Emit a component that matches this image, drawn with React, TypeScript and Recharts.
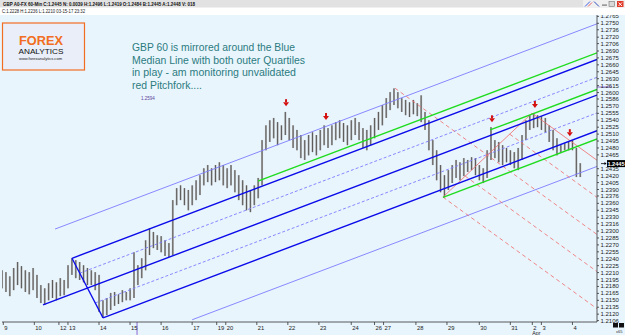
import React from "react";
import { ComposedChart, Bar, XAxis, YAxis, ReferenceLine, ReferenceDot } from "recharts";

if (typeof document !== "undefined") document.body.style.margin = "0";

// GBPUSD 60-min, aggregated to 3-hour bars; time = trading-hour index (weekends removed)
const barStep = 3;
const barHigh = [
  1.2215, 1.2211, 1.2202, 1.222, 1.2233, 1.2224, 1.2215, 1.2211, 1.222, 1.2205,
  1.2183, 1.2176, 1.2187, 1.2194, 1.2189, 1.2198, 1.2194, 1.2226, 1.2241, 1.2237,
  1.2233, 1.2226, 1.222, 1.2215, 1.2211, 1.2205, 1.215, 1.2155, 1.2166, 1.2168,
  1.2163, 1.2172, 1.2168, 1.2176, 1.2254, 1.2226, 1.2241, 1.228, 1.2306, 1.2298,
  1.2291, 1.2289, 1.228, 1.2274, 1.2367, 1.2393, 1.2399, 1.2393, 1.2389, 1.2399,
  1.241, 1.2421, 1.2436, 1.2443, 1.2436, 1.2443, 1.2449, 1.2443, 1.2436, 1.2443,
  1.2432, 1.2421, 1.241, 1.2399, 1.2389, 1.2399, 1.2415, 1.2497, 1.2529, 1.254,
  1.2545, 1.2536, 1.2529, 1.2558, 1.2545, 1.2529, 1.2519, 1.2508, 1.2497, 1.2508,
  1.2514, 1.2508, 1.2519, 1.2529, 1.2523, 1.2529, 1.2536, 1.254, 1.2534, 1.2529,
  1.254, 1.2545, 1.2536, 1.2523, 1.2519, 1.2529, 1.2545, 1.2558, 1.2573, 1.2588,
  1.2601, 1.2609, 1.2601, 1.2588, 1.2584, 1.2579, 1.2584, 1.2577, 1.2594, 1.2558,
  1.254, 1.2497, 1.2475, 1.2443, 1.2421, 1.2432, 1.2443, 1.2454, 1.2449, 1.2458,
  1.2454, 1.246, 1.2458, 1.2443, 1.2436, 1.2475, 1.2525, 1.2497, 1.2493, 1.2486,
  1.248, 1.2475, 1.2471, 1.248, 1.2508, 1.254, 1.2551, 1.2555, 1.2551, 1.2549,
  1.2545, 1.2529, 1.2519, 1.2501, 1.2486, 1.249, 1.2493, 1.2497, 1.248, 1.2447,
];
const barLow = [
  1.2176, 1.2168, 1.2159, 1.2172, 1.2183, 1.2176, 1.2168, 1.2163, 1.2172, 1.2155,
  1.2144, 1.214, 1.215, 1.2155, 1.215, 1.2159, 1.2161, 1.2176, 1.2205, 1.2198,
  1.2194, 1.2189, 1.2183, 1.2183, 1.2172, 1.2125, 1.2112, 1.2118, 1.2129, 1.2138,
  1.2142, 1.2146, 1.215, 1.215, 1.2155, 1.2183, 1.2198, 1.2215, 1.2248, 1.2263,
  1.2259, 1.2254, 1.2246, 1.2244, 1.2248, 1.2356, 1.2367, 1.2356, 1.2345, 1.2356,
  1.2367, 1.2378, 1.2399, 1.2406, 1.2399, 1.2406, 1.241, 1.2399, 1.2393, 1.2399,
  1.2384, 1.2367, 1.2356, 1.2345, 1.2341, 1.2356, 1.2371, 1.2399, 1.2475, 1.2493,
  1.2501, 1.2486, 1.2497, 1.2508, 1.2497, 1.248, 1.2475, 1.2458, 1.2454, 1.2464,
  1.2471, 1.2464, 1.2475, 1.2486, 1.248, 1.2486, 1.2497, 1.2501, 1.2493, 1.2486,
  1.2497, 1.2508, 1.2497, 1.248, 1.2475, 1.2486, 1.2501, 1.2519, 1.2529, 1.2545,
  1.2562, 1.2573, 1.2566, 1.2558, 1.2551, 1.2547, 1.2553, 1.2549, 1.2536, 1.2519,
  1.2475, 1.2443, 1.241, 1.2384, 1.2373, 1.2389, 1.2404, 1.2415, 1.241, 1.2419,
  1.2428, 1.2432, 1.2421, 1.241, 1.2404, 1.2415, 1.2454, 1.2458, 1.2449, 1.2443,
  1.2449, 1.2443, 1.2436, 1.2432, 1.2454, 1.2497, 1.2519, 1.2523, 1.2525, 1.2519,
  1.2514, 1.2493, 1.2475, 1.2464, 1.2469, 1.2475, 1.2475, 1.2475, 1.2417, 1.2417,
];
const lastPrice = 1.2445;

const dayTickHours = [1, 25, 44, 51, 75, 99, 123, 147, 166, 173, 197, 221, 245, 270, 288, 295, 320, 344, 369, 393, 410, 417, 441];
const dayTickLabels = ["9", "10", "12", "13", "14", "15", "16", "17", "19", "20", "21", "22", "23", "24", "26", "27", "28", "29", "30", "31", "2", "3", "4"];
const monthUnder: Record<string, string> = { "2": "Apr" };

// 1.2450 sits under the last-price box, so it is not listed
const priceTicks = [
  1.2765, 1.275, 1.2736, 1.272, 1.2706, 1.269, 1.2675, 1.266, 1.2645, 1.263, 1.2615, 1.26, 1.2586, 1.257, 1.2555,
  1.254, 1.2525, 1.251, 1.2495, 1.248, 1.2465, 1.2435, 1.242, 1.2405, 1.239, 1.2376, 1.236, 1.2345, 1.233,
  1.2316, 1.23, 1.2285, 1.227, 1.2255, 1.224, 1.2225, 1.221, 1.2195, 1.218, 1.2165, 1.215, 1.2135, 1.212, 1.2106,
];

// blue pitchfork pivots (A, B, C)
const blueHours = [31.7, 54.1, 78.1];
const bluePrices = [1.214, 1.2241, 1.2112];
const blueWarnStartHours = [41, 147];
// red (unvalidated) pitchfork pivots
const redHours = [303.8, 340.9, 409.7];
const redPrices = [1.26095, 1.23735, 1.25554];
// green parallels, start points
const greenHours = [197.9, 377.3, 340.9];
const greenPrices = [1.2408, 1.2519, 1.2373];

const arrowHours = [219.6, 250.5, 378.8, 412, 439];
const arrowPrices = [1.2577, 1.2547, 1.2542, 1.2573, 1.2512];

const endHour = 460;

type Pt = { x: number; y: number };
const lerp = (a: Pt, b: Pt, f: number): Pt => ({ x: a.x + (b.x - a.x) * f, y: a.y + (b.y - a.y) * f });

function fork(times: number[], prices: number[]) {
  const [a, b, c] = times.map((t, i) => ({ x: t, y: prices[i] }));
  const mid = lerp(b, c, 0.5);
  const slope = (mid.y - a.y) / (mid.x - a.x);
  const at = (t: number) => a.y + slope * (t - a.x);
  const ray = (p: Pt): [Pt, Pt] => [p, { x: endHour, y: p.y + slope * (endHour - p.x) }];
  return { a, b, c, slope, at, ray };
}

const blue = fork(blueHours, bluePrices);
const red = fork(redHours, redPrices);

const candles = barHigh.map((h, i) => ({ t: i * barStep, range: [barLow[i], h] }));

const CandleShape = (props: any) => {
  const { x, y, width, height } = props;
  const cx = x + width / 2;
  const top = Math.min(y, y + height);
  const h = Math.abs(height);
  return (
    <g>
      <rect x={cx - 1} y={top} width={2} height={Math.max(h, 1)} fill="#b4b4b4" />
      <line x1={cx} x2={cx} y1={top} y2={top + h} stroke="#505050" strokeWidth={0.9} />
    </g>
  );
};

const DayTick = (props: any) => {
  const { x, y, payload, index } = props;
  const label = dayTickLabels[index] ?? String(payload.value);
  return (
    <g>
      <line x1={x} x2={x} y1={y} y2={y + 3} stroke="#333" strokeWidth={0.8} />
      <text x={x + 1} y={y + 8} fontSize={5.8} fill="#222" fontFamily="Liberation Sans">{label}</text>
      {monthUnder[label] && (
        <text x={x} y={y + 13} fontSize={5.3} fill="#222" fontFamily="Liberation Sans">{monthUnder[label]}</text>
      )}
    </g>
  );
};

const PriceTick = (props: any) => {
  const { x, y, payload } = props;
  return (
    <g>
      <line x1={x} x2={x + 2} y1={y} y2={y} stroke="#333" strokeWidth={0.8} />
      <text x={x + 3.5} y={y + 2} fontSize={6} fill="#222" fontFamily="Liberation Sans">
        {payload.value.toFixed(4)}
      </text>
    </g>
  );
};

const ArrowShape = (props: any) => {
  const { cx, cy } = props;
  return (
    <g>
      <rect x={cx - 1} y={cy - 4} width={2} height={3} fill="#d41111" />
      <path d={`M${cx - 3},${cy - 1} L${cx + 3},${cy - 1} L${cx},${cy + 3} Z`} fill="#d41111" />
    </g>
  );
};

const PriceBox = (props: any) => {
  const { cx, cy } = props;
  return (
    <g>
      <line x1={cx + 4} x2={cx + 9} y1={cy - 0.5} y2={cy - 0.5} stroke="#000" strokeWidth={0.8} />
      <path d={`M${cx + 9.5},${cy - 0.5} L${cx + 7.5},${cy - 2} L${cx + 7.5},${cy + 1} Z`} fill="#000" />
      <rect x={cx + 10} y={cy - 4} width={18} height={7} fill="#000" />
      <text x={cx + 19} y={cy + 1.6} fontSize={5.6} fontWeight="bold" fill="#fff" textAnchor="middle" fontFamily="Liberation Sans">
        {lastPrice.toFixed(4)}
      </text>
    </g>
  );
};

const NoteShape = (props: any) => (
  <text x={props.cx} y={props.cy + 1.5} fontSize={4.5} fill="#5a3d99" fontFamily="Liberation Sans">1.2594</text>
);

const DARK_BLUE = "#0b0bea";
const LIGHT_BLUE = "#7c7cff";
const GREEN = "#1fdc1f";
const RED = "#ef6a6a";

export default function App() {
  const lines: { seg: [Pt, Pt]; stroke: string; w: number; dash?: string }[] = [];

  // blue fork: quartiles and warning lines first, dark tines on top
  const bOff = blue.b.y - blue.at(blue.b.x);
  const cOff = blue.c.y - blue.at(blue.c.x);
  lines.push({ seg: blue.ray(lerp(blue.b, blue.c, 0.25)), stroke: LIGHT_BLUE, w: 0.9, dash: "3 2" });
  lines.push({ seg: blue.ray(lerp(blue.b, blue.c, 0.75)), stroke: LIGHT_BLUE, w: 0.9, dash: "3 2" });
  lines.push({ seg: blue.ray({ x: blueWarnStartHours[0], y: blue.at(blueWarnStartHours[0]) + 2 * bOff }), stroke: LIGHT_BLUE, w: 0.9 });
  lines.push({ seg: blue.ray({ x: blueWarnStartHours[1], y: blue.at(blueWarnStartHours[1]) + 2 * cOff }), stroke: LIGHT_BLUE, w: 0.9 });

  // red fork
  lines.push({ seg: [red.b, red.c], stroke: RED, w: 0.8 });
  lines.push({ seg: red.ray(red.a), stroke: RED, w: 0.8, dash: "4 3" });
  lines.push({ seg: red.ray(red.b), stroke: RED, w: 0.8, dash: "4 3" });
  lines.push({ seg: red.ray(red.c), stroke: RED, w: 0.8 });
  lines.push({ seg: red.ray(lerp(red.b, red.c, 0.25)), stroke: RED, w: 0.8, dash: "4 3" });
  lines.push({ seg: red.ray(lerp(red.b, red.c, 0.75)), stroke: RED, w: 0.8, dash: "4 3" });

  // green parallels
  greenHours.forEach((t, i) => lines.push({ seg: blue.ray({ x: t, y: greenPrices[i] }), stroke: GREEN, w: 1.4 }));

  lines.push({ seg: [blue.b, blue.c], stroke: DARK_BLUE, w: 1.3 });
  lines.push({ seg: blue.ray(blue.a), stroke: DARK_BLUE, w: 1.4 });
  lines.push({ seg: blue.ray(blue.b), stroke: DARK_BLUE, w: 1.4 });
  lines.push({ seg: blue.ray(blue.c), stroke: DARK_BLUE, w: 1.4 });

  return (
    <div style={{ position: "relative", width: 625, height: 335, background: "#e9f5fd", overflow: "hidden" }}>
      <ComposedChart width={625} height={335} data={candles} margin={{ top: 15, right: 0, bottom: 0, left: 2 }}>
        <XAxis
          dataKey="t"
          type="number"
          domain={[0, endHour]}
          ticks={dayTickHours}
          interval={0}
          tick={<DayTick />}
          tickLine={false}
          tickSize={0}
          tickMargin={0}
          axisLine={{ stroke: "#333", strokeWidth: 0.8 }}
          height={13}
          allowDataOverflow
        />
        <YAxis
          orientation="right"
          type="number"
          domain={[1.2103, 1.2768]}
          ticks={priceTicks}
          interval={0}
          tick={<PriceTick />}
          tickLine={false}
          tickSize={0}
          tickMargin={0}
          axisLine={{ stroke: "#333", strokeWidth: 0.8 }}
          width={28}
          allowDataOverflow
        />
        {lines.map((l, i) => (
          <ReferenceLine
            key={`l${i}`}
            segment={l.seg}
            stroke={l.stroke}
            strokeWidth={l.w}
            strokeDasharray={l.dash}
            ifOverflow="hidden"
          />
        ))}
        <Bar dataKey="range" barSize={2} shape={<CandleShape />} isAnimationActive={false} />
        {arrowHours.map((t, i) => (
          <ReferenceDot key={`a${i}`} x={t} y={arrowPrices[i]} r={0} shape={<ArrowShape />} ifOverflow="visible" />
        ))}
        <ReferenceDot x={107.5} y={1.2588} r={0} shape={<NoteShape />} ifOverflow="visible" />
        <ReferenceLine segment={[{ x: 104.4, y: 1.2103 }, { x: 104.4, y: 1.2075 }]} stroke="#8a6ad0" strokeWidth={1} ifOverflow="visible" />
        <ReferenceLine segment={[{ x: endHour, y: 1.2612 }, { x: 471.6, y: 1.2612 }]} stroke="#8a6ad0" strokeWidth={1} ifOverflow="visible" />
        <ReferenceDot x={endHour} y={lastPrice} r={0} shape={<PriceBox />} ifOverflow="visible" />
      </ComposedChart>

      <svg width={625} height={335} style={{ position: "absolute", left: 0, top: 0, pointerEvents: "none" }}>
        {/* header */}
        <rect x={0} y={0} width={625} height={15} fill="#ffffff" />
        <rect x={0} y={0} width={583} height={7.5} fill="#e2e2e2" />
        <text x={3} y={6} fontSize={5.4} fontWeight="bold" fill="#111" fontFamily="Liberation Sans" textLength={192} lengthAdjust="spacingAndGlyphs">
          GBP A0-FX 60-Min C:1.2445 N: 0.0039 H:1.2496 L:1.2419 O:1.2484 B:1.2445 A:1.2448 V: 018
        </text>
        <text x={2} y={13} fontSize={4.8} fill="#222" fontFamily="Liberation Sans" textLength={83} lengthAdjust="spacingAndGlyphs">
          C:1.2228 H:1.2236 L:1.2210 03-15-17 23:32
        </text>
        {/* window icons */}
        <rect x={583} y={0} width={42} height={8} fill="#f0f0f0" />
        <line x1={585} y1={6.5} x2={590} y2={1.5} stroke="#4060e0" strokeWidth={1} />
        <line x1={588} y1={6.5} x2={592} y2={2.5} stroke="#e04040" strokeWidth={0.8} />
        <line x1={594} y1={1.5} x2={599} y2={6.5} stroke="#3050c0" strokeWidth={1} />
        <rect x={602} y={4.5} width={5} height={1.2} fill="#777" />
        <rect x={609} y={1.5} width={5.5} height={5} fill="#d8d8d8" stroke="#777" strokeWidth={0.6} />
        <rect x={617} y={1} width={6.5} height={6} fill="#e23a2a" />
        <path d="M618.5,2.5 L622,6 M622,2.5 L618.5,6" stroke="#fff" strokeWidth={0.9} />

        {/* logo */}
        <rect x={2.5} y={23} width={82} height={47} fill="#e9eef8" stroke="#f26d21" strokeWidth={1.2} />
        <text x={19} y={44.5} fontSize={12.5} fontWeight="bold" fill="#f26d21" fontFamily="Liberation Sans" textLength={44} lengthAdjust="spacingAndGlyphs">FOREX</text>
        <text x={18.5} y={53.5} fontSize={7.5} fill="#111" fontFamily="Liberation Sans" textLength={45} lengthAdjust="spacingAndGlyphs">ANALYTICS</text>
        <text x={19} y={59.5} fontSize={3.6} fill="#222" fontFamily="Liberation Sans" textLength={43} lengthAdjust="spacingAndGlyphs">www.forexanalytics.com</text>

        {/* annotation */}
        <g fontFamily="Liberation Sans" fontSize={10.5} fill="#2b7b80">
          <text x={132} y={51} textLength={163} lengthAdjust="spacingAndGlyphs">GBP 60 is mirrored around the Blue</text>
          <text x={132} y={63.7} textLength={173} lengthAdjust="spacingAndGlyphs">Median Line with both outer Quartiles</text>
          <text x={132} y={76.4} textLength={164} lengthAdjust="spacingAndGlyphs">in play - am monitoring unvalidated</text>
          <text x={132} y={89} textLength={70} lengthAdjust="spacingAndGlyphs">red Pitchfork....</text>
        </g>

        {/* bottom-right corner */}
        <rect x={613} y={323} width={5} height={4.5} fill="#111" />
        <rect x={619} y={323} width={5} height={4.5} fill="#111" />
        <text x={616} y={333} fontSize={4} fill="#333" fontFamily="Liberation Sans">x65</text>
      </svg>
    </div>
  );
}
